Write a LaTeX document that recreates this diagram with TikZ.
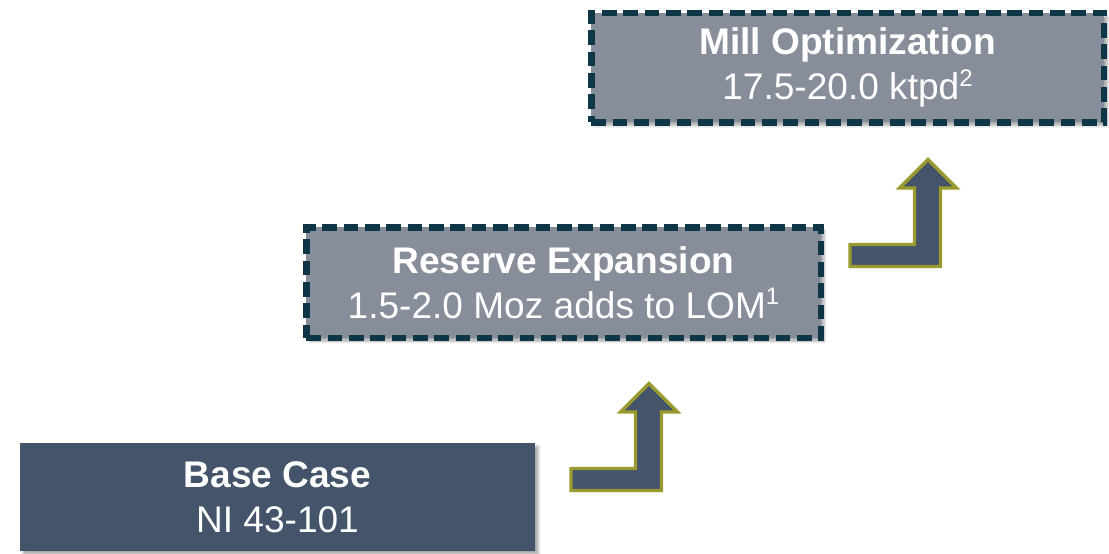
\documentclass[tikz,border=0pt]{standalone}
\usepackage{fontspec}
\setmainfont{Liberation Sans}
\usetikzlibrary{shadows.blur}
\definecolor{basefill}{HTML}{44546A}
\definecolor{dashfill}{HTML}{878E99}
\definecolor{dashline}{HTML}{0F3647}
\definecolor{olive}{HTML}{9B9A30}
\newcommand{\supnum}[1]{\raisebox{0.36em}{\fontsize{18}{18}\selectfont #1}}
\tikzset{
  stagebox/.style={rectangle, align=center, text=white, inner sep=0pt,
    font=\fontsize{27.8}{33.5}\selectfont,
    blur shadow={shadow xshift=2.5pt, shadow yshift=-2.5pt, shadow blur steps=6, shadow opacity=35}},
  solidbox/.style={stagebox, fill=basefill},
  dashbox/.style={stagebox, fill=dashfill, draw=dashline, line width=5pt,
    dash pattern=on 11pt off 5pt},
  bentarrow/.style={fill=basefill, draw=olive, line width=2.6pt, line join=miter}
}
\begin{document}
\begin{tikzpicture}[x=0.75pt,y=-0.75pt]
\useasboundingbox (0,0) rectangle (1109,553);
\node[solidbox, minimum width=386.25pt, minimum height=81pt] (base) at (277.5,497)
  {\textbf{Base Case}\\NI 43-101};
\node[dashbox, minimum width=386pt, minimum height=83pt] (reserve) at (563.5,282.5)
  {\textbf{Reserve Expansion}\\1.5-2.0 Moz adds to LOM\supnum{1}};
\node[dashbox, minimum width=384.5pt, minimum height=82pt] (mill) at (847.5,67.5)
  {\textbf{Mill Optimization}\\17.5-20.0 ktpd\supnum{2}};
% bent-up arrows
\foreach \dx/\dy in {0/0, 279/-224}{
  \begin{scope}[shift={(\dx*0.75pt,-\dy*0.75pt)}]
  \draw[bentarrow] (571,468.5) -- (635.5,468.5) -- (635.5,412) -- (620.5,412) -- (649,383.5)
     -- (677.5,412) -- (661.5,412) -- (661.5,490.5) -- (571,490.5) -- cycle;
  \end{scope}
}
\end{tikzpicture}
\end{document}
